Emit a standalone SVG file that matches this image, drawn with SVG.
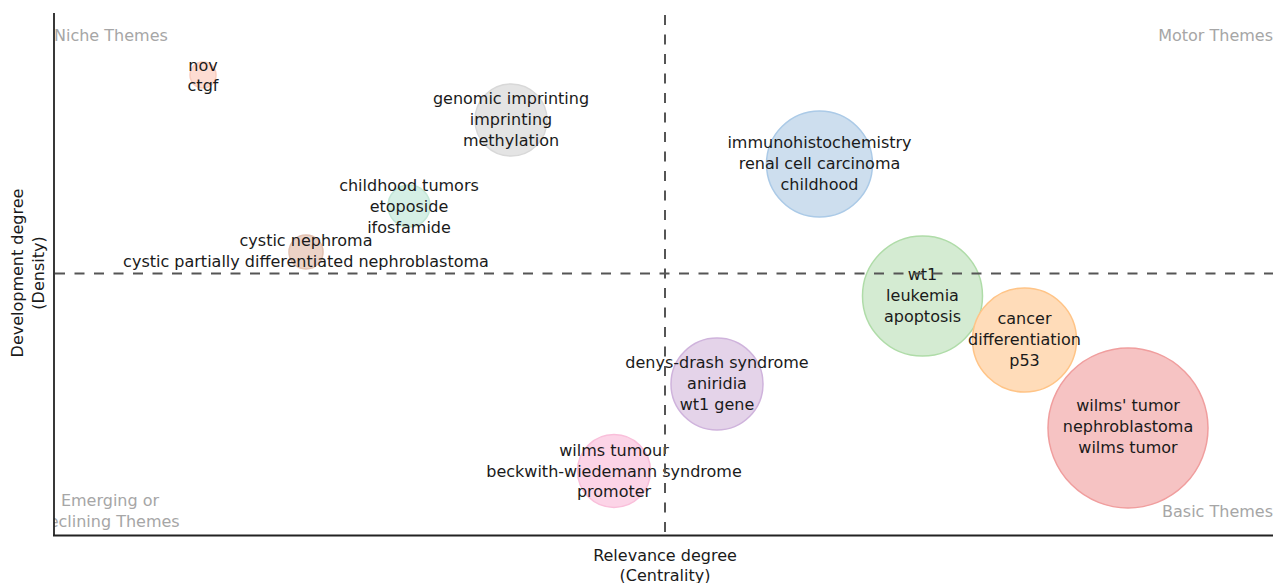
<svg xmlns="http://www.w3.org/2000/svg" width="1273" height="583" viewBox="0 0 1273 583">
<style>
  text { font-family: "DejaVu Sans", Verdana, sans-serif; font-size: 16px; }
  .lbl { fill: #1a1a1a; text-anchor: middle; }
  .quad { fill: #a6a6a6; }
  .axis { stroke: #222; stroke-width: 1.8; fill: none; }
  .dash { stroke: #555; stroke-width: 2; stroke-dasharray: 10 9.5; fill: none; }
  .bubble { stroke-width: 1.5; }
</style>
<defs>
  <clipPath id="plotclip"><rect x="54" y="0" width="1219" height="583"/></clipPath>
</defs>
<rect width="1273" height="583" fill="#ffffff"/>

<g id="quadrant-labels">
  <text class="quad" x="54" y="41">Niche Themes</text>
  <text class="quad" x="1273" y="41" text-anchor="end">Motor Themes</text>
  <g clip-path="url(#plotclip)">
    <text class="quad" x="110" y="506" text-anchor="middle">Emerging or</text>
    <text class="quad" x="108" y="527" text-anchor="middle">Declining Themes</text>
  </g>
  <text class="quad" x="1273" y="517" text-anchor="end">Basic Themes</text>
</g>

<g id="node-nov">
  <circle class="bubble" cx="203" cy="75" r="13" fill="#fddcd2" stroke="#f9cdbf"/>
  <text class="lbl" x="203" y="71">nov</text>
  <text class="lbl" x="203" y="91">ctgf</text>
</g>
<g id="node-genomic">
  <circle class="bubble" cx="511" cy="120" r="36" fill="#e4e4e4" stroke="#d8d8d8"/>
  <text class="lbl" x="511" y="104">genomic imprinting</text>
  <text class="lbl" x="511" y="125">imprinting</text>
  <text class="lbl" x="511" y="146">methylation</text>
</g>
<g id="node-childhood-tumors">
  <circle class="bubble" cx="409" cy="206" r="21" fill="#d5efe5" stroke="#c3e7d8"/>
  <text class="lbl" x="409" y="191">childhood tumors</text>
  <text class="lbl" x="409" y="212">etoposide</text>
  <text class="lbl" x="409" y="233">ifosfamide</text>
</g>
<g id="node-cystic">
  <circle class="bubble" cx="306" cy="252" r="17" fill="#ecd3c7" stroke="#e2c1b1"/>
  <text class="lbl" x="306" y="246">cystic nephroma</text>
  <text class="lbl" x="306" y="267">cystic partially differentiated nephroblastoma</text>
</g>
<g id="node-immuno">
  <circle class="bubble" cx="819.5" cy="164" r="53" fill="#cddeee" stroke="#abcae7"/>
  <text class="lbl" x="819.5" y="148">immunohistochemistry</text>
  <text class="lbl" x="819.5" y="169">renal cell carcinoma</text>
  <text class="lbl" x="819.5" y="190">childhood</text>
</g>
<g id="node-wt1">
  <circle class="bubble" cx="922.5" cy="296" r="60" fill="#d4ebd2" stroke="#afdca8"/>
  <text class="lbl" x="922.5" y="280">wt1</text>
  <text class="lbl" x="922.5" y="301">leukemia</text>
  <text class="lbl" x="922.5" y="322">apoptosis</text>
</g>
<g id="node-cancer">
  <circle class="bubble" cx="1024.5" cy="340" r="52" fill="#ffdcb9" stroke="#ffc487"/>
  <text class="lbl" x="1024.5" y="324">cancer</text>
  <text class="lbl" x="1024.5" y="345">differentiation</text>
  <text class="lbl" x="1024.5" y="366">p53</text>
</g>
<g id="node-wilms-tumor">
  <circle class="bubble" cx="1128" cy="428" r="80" fill="#f6c3c3" stroke="#f09e9e"/>
  <text class="lbl" x="1128" y="411">wilms' tumor</text>
  <text class="lbl" x="1128" y="432">nephroblastoma</text>
  <text class="lbl" x="1128" y="453">wilms tumor</text>
</g>
<g id="node-denys-drash">
  <circle class="bubble" cx="717" cy="384" r="46" fill="#e4d3e9" stroke="#cfb3dc"/>
  <text class="lbl" x="717" y="368">denys-drash syndrome</text>
  <text class="lbl" x="717" y="389">aniridia</text>
  <text class="lbl" x="717" y="410">wt1 gene</text>
</g>
<g id="node-wilms-tumour">
  <circle class="bubble" cx="614" cy="471" r="36.5" fill="#fcd4e7" stroke="#f9bfda"/>
  <text class="lbl" x="614" y="456">wilms tumour</text>
  <text class="lbl" x="614" y="477">beckwith-wiedemann syndrome</text>
  <text class="lbl" x="614" y="497">promoter</text>
</g>

<g id="axes">
  <line class="axis" x1="54" y1="13" x2="54" y2="536"/>
  <line class="axis" x1="53" y1="535.5" x2="1273" y2="535.5"/>
  <line class="dash" x1="665" y1="15" x2="665" y2="535"/>
  <line class="dash" x1="55" y1="273.5" x2="1273" y2="273.5"/>
</g>

<g id="axis-titles">
  <text class="lbl" x="665" y="561">Relevance degree</text>
  <text class="lbl" x="665" y="581">(Centrality)</text>
  <text class="lbl" transform="translate(22.5,273) rotate(-90)" x="0" y="0">Development degree</text>
  <text class="lbl" transform="translate(43.5,273) rotate(-90)" x="0" y="0">(Density)</text>
</g>
</svg>
